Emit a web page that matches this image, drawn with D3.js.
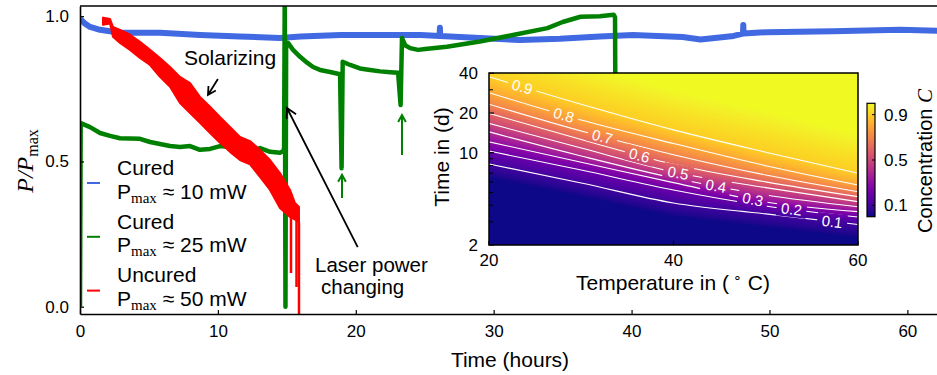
<!DOCTYPE html>
<html><head><meta charset="utf-8">
<script src="https://cdn.jsdelivr.net/npm/d3@7"></script>
<style>
body{margin:0;background:#fff}
svg{display:block}
text{font-family:"Liberation Sans",Arial,sans-serif;fill:#000}
</style>
</head><body>
<svg id="c" width="937" height="375"></svg>
<script>
// ---------------- DATA ----------------
const xTicks = [0, 10, 20, 30, 40, 50, 60];
const yTicks = [0.0, 0.5, 1.0];

// Cured, Pmax ~ 10 mW  [hours, P/Pmax]
const blueSeries = [[0,0.99],[0.35,0.975],[0.73,0.963],[1.45,0.953],[2.9,0.943],[5.8,0.943],[8.7,0.935],
  [11.6,0.93],[14.5,0.925],[16.0,0.93],[18.9,0.935],[21.8,0.935],[24.7,0.935],[26.08,0.932],[26.1,0.96],
  [26.12,0.932],[29.0,0.925],[31.9,0.918],[34.8,0.922],[37.7,0.93],[40.1,0.935],[43.7,0.928],[45.0,0.92],
  [47.4,0.932],[48.08,0.94],[48.1,0.97],[48.12,0.94],[49.8,0.945],[54.6,0.948],[59.5,0.953],[62.2,0.95]];

// Cured, Pmax ~ 25 mW
const greenSeries = [[0,0],[0.05,0.632],[0.73,0.618],[1.45,0.598],[2.18,0.588],[2.9,0.58],[4.35,0.578],
  [5.08,0.567],[5.8,0.56],[6.53,0.553],[7.25,0.55],[7.98,0.553],[8.7,0.54],[9.43,0.543],[10.16,0.553],
  [10.88,0.55],[11.6,0.54],[12.33,0.536],[13.06,0.546],[13.79,0.533],[14.5,0.53],[14.73,0.535],[14.8,0.546],
  [14.85,1.1],[14.9,0.0],[14.95,0.91],[15.1,0.907],[15.45,0.884],[15.96,0.86],[16.47,0.84],[16.9,0.825],
  [17.41,0.815],[18.14,0.808],[18.86,0.80],[18.97,0.477],[19.05,0.843],[19.59,0.832],[20.3,0.82],
  [21.04,0.815],[21.77,0.81],[22.5,0.807],[23.07,0.805],[23.25,0.694],[23.35,0.925],[23.58,0.90],
  [23.94,0.89],[24.52,0.884],[25.03,0.887],[26.6,0.895],[29.0,0.913],[31.4,0.935],[33.9,0.959],
  [35.0,0.98],[36.3,0.998],[37.7,1.0],[38.7,1.005],[38.8,0.997],[38.85,0.4]];

// Uncured, Pmax ~ 50 mW : noisy band [hours, low, high]
const redBand = [[1.67,0.97,0.995],[2.18,0.975,0.99],[2.39,0.929,0.963],[2.9,0.908,0.953],[3.63,0.884,0.936],
  [4.35,0.856,0.912],[5.08,0.832,0.884],[5.8,0.791,0.856],[6.53,0.757,0.825],[7.25,0.701,0.791],
  [7.98,0.667,0.77],[8.7,0.633,0.722],[9.43,0.598,0.688],[10.15,0.564,0.653],[10.88,0.533,0.619],
  [11.6,0.505,0.584],[12.33,0.49,0.57],[13.05,0.447,0.54],[13.78,0.402,0.505],[14.5,0.34,0.46],
  [15.23,0.309,0.402],[15.59,0.30,0.357],[15.88,0.29,0.343]];
const redSpikes = [[13.8,0.43],[15.3,0.116],[15.7,0.068],[15.88,-0.04]];

const legendTop = ["Cured", "Cured", "Uncured"];
const legendPower = ["10", "25", "50"];
const legendColors = ["#4169e1", "#008000", "#ff0000"];

// Inset: contour levels of concentration C, time in days at each temperature
const insetTemps = [20, 30, 40, 50, 60];
const insetXTicks = [20, 40, 60];
const insetYTicks = [2, 10, 20, 40];
const insetYMinor = [3, 4, 5, 6, 7, 8, 9, 30];
const contourLevels = [0.1, 0.2, 0.3, 0.4, 0.5, 0.6, 0.7, 0.8, 0.9];
const contourDays = [
  [8.22, 5.90, 4.16, 3.44, 2.86],
  [10.3, 7.40, 5.22, 3.95, 3.26],
  [12.1, 8.48, 5.94, 4.24, 3.58],
  [14.4, 9.45, 6.44, 4.79, 3.90],
  [16.7, 10.85, 7.15, 5.44, 4.26],
  [19.9, 12.6, 8.18, 6.02, 4.65],
  [23.3, 14.6, 9.66, 6.78, 5.07],
  [28.5, 17.7, 11.75, 7.98, 5.70],
  [37.7, 23.3, 14.9, 10.1, 6.99]];
const daysC0 = [6.4, 4.6, 3.25, 2.7, 2.25];   // where C reaches ~0
const daysC1 = [80, 48, 30, 21, 14];          // where C reaches ~1
const labelTemps = [57.2, 52.8, 48.6, 44.6, 40.5, 36.3, 32.3, 28.1, 23.6]; // label spot per level
const cbarTicks = [0.1, 0.5, 0.9];

// ---------------- CHART ----------------
const svg = d3.select("#c");
const FONT = '"Liberation Sans",Arial,sans-serif';
const SERIF = '"Liberation Serif","DejaVu Serif",serif';

const x = d3.scaleLinear().domain([0, 62.2]).range([80, 937.7]);
const y = d3.scaleLinear().domain([-0.025, 1.035]).range([314, 6]);

svg.append("clipPath").attr("id", "plotclip").append("rect")
  .attr("x", 80).attr("y", 6).attr("width", 870).attr("height", 308);

const plot = svg.append("g").attr("clip-path", "url(#plotclip)");
const line = d3.line().x(d => x(d[0])).y(d => y(d[1]));

plot.append("path").datum(blueSeries).attr("d", line)
  .attr("fill", "none").attr("stroke", "#4169e1").attr("stroke-width", 6).attr("stroke-linejoin", "round");
plot.append("path").datum(greenSeries).attr("d", line)
  .attr("fill", "none").attr("stroke", "#008000").attr("stroke-width", 4.5).attr("stroke-linejoin", "round");

const redArea = d3.area().x(d => x(d[0])).y0(d => y(d[1])).y1(d => y(d[2]));
plot.append("path").datum(redBand).attr("d", redArea)
  .attr("fill", "#ff0000").attr("stroke", "#ff0000").attr("stroke-width", 2).attr("stroke-linejoin", "round");
const redLowAt = d3.scaleLinear().domain(redBand.map(d => d[0])).range(redBand.map(d => d[1])).clamp(true);
plot.selectAll(".spk").data(redSpikes).join("line")
  .attr("x1", d => x(d[0])).attr("x2", d => x(d[0]))
  .attr("y1", d => y(redLowAt(d[0]))).attr("y2", d => y(d[1]))
  .attr("stroke", "#ff0000").attr("stroke-width", 2.5);

// axes
const ax = svg.append("g").attr("transform", "translate(0,314)")
  .call(d3.axisBottom(x).tickValues(xTicks).tickSize(-4).tickSizeOuter(0).tickPadding(11).tickFormat(d3.format("d")));
const ay = svg.append("g").attr("transform", "translate(80,0)")
  .call(d3.axisLeft(y).tickValues(yTicks).tickSize(-4).tickSizeOuter(0).tickPadding(11).tickFormat(d3.format(".1f")));
[ax, ay].forEach(g => {
  g.select(".domain").attr("stroke", "#000").attr("stroke-width", 1.6);
  g.selectAll(".tick line").attr("stroke", "#000").attr("stroke-width", 1.2);
  g.selectAll(".tick text").attr("font-size", 17).attr("font-family", FONT).attr("fill", "#000");
});
svg.append("line").attr("x1", 80).attr("x2", 937).attr("y1", 6).attr("y2", 6)
  .attr("stroke", "#000").attr("stroke-width", 1.6);

// axis labels
svg.append("text").attr("x", 510).attr("y", 366.5).attr("text-anchor", "middle")
  .attr("font-size", 21).text("Time (hours)");
const yl = svg.append("text").attr("transform", "translate(33,161) rotate(-90)")
  .attr("text-anchor", "middle").attr("font-size", 24).attr("font-family", SERIF);
yl.append("tspan").attr("font-style", "italic").attr("font-family", SERIF).text("P/P");
yl.append("tspan").attr("font-size", 16).attr("font-family", SERIF).attr("dy", 5).text("max");

// legend
legendTop.forEach((t, i) => {
  const y0 = 175 + i * 53.5;
  svg.append("line").attr("x1", 87).attr("x2", 100).attr("y1", y0 + 8 + i * 0.3).attr("y2", y0 + 8 + i * 0.3)
    .attr("stroke", legendColors[i]).attr("stroke-width", 2);
  svg.append("text").attr("x", 117).attr("y", y0).attr("font-size", 21).text(t);
  const tt = svg.append("text").attr("x", 117).attr("y", y0 + 23.5).attr("font-size", 21);
  tt.append("tspan").text("P");
  tt.append("tspan").attr("font-family", SERIF).attr("font-size", 15).attr("dy", 4).text("max");
  tt.append("tspan").attr("dy", -4).text(" \u2248 " + legendPower[i] + " mW");
});

// arrows
function arrow(x1, y1, x2, y2, color, w, len) {
  const a = Math.atan2(y2 - y1, x2 - x1);
  const h = 0.5;
  const p = d3.path();
  p.moveTo(x1, y1); p.lineTo(x2, y2);
  p.moveTo(x2 - len * Math.cos(a - h), y2 - len * Math.sin(a - h));
  p.lineTo(x2, y2);
  p.lineTo(x2 - len * Math.cos(a + h), y2 - len * Math.sin(a + h));
  svg.append("path").attr("d", p.toString()).attr("fill", "none").attr("stroke", color)
    .attr("stroke-width", w).attr("stroke-linejoin", "miter");
}
svg.append("text").attr("x", 230).attr("y", 65).attr("text-anchor", "middle").attr("font-size", 21).text("Solarizing");
arrow(x(10.0), y(0.784), x(9.28), y(0.729), "#000", 1.8, 9);
svg.append("text").attr("x", 315).attr("y", 272).attr("font-size", 20.5).text("Laser power");
svg.append("text").attr("x", 321).attr("y", 294).attr("font-size", 20.5).text("changing");
arrow(x(20.14), y(0.205), x(15.01), y(0.684), "#000", 1.8, 11);
arrow(x(19.0), y(0.374), x(19.0), y(0.454), "#008000", 2, 8);
arrow(x(23.35), y(0.522), x(23.35), y(0.66), "#008000", 2, 8);

// ---------------- INSET ----------------
const IX0 = 489, IX1 = 858, IY0 = 73, IY1 = 245;
const inX = d3.scaleLinear().domain([20, 60]).range([IX0, IX1]);
const inY = d3.scaleLog().domain([2, 40]).range([IY1, IY0 + 0.3]);

const allLevels = [0].concat(contourLevels, [1]);
const allDays = [daysC0].concat(contourDays, [daysC1]);
const levelLogAt = allDays.map(row =>
  d3.scaleLinear().domain(insetTemps).range(row.map(v => Math.log10(v))).clamp(true));

const W = IX1 - IX0, H = IY1 - IY0;
const cv = document.createElement("canvas");
cv.width = W; cv.height = H;
const ctx = cv.getContext("2d");
const img = ctx.createImageData(W, H);
for (let i = 0; i < W; i++) {
  const T = inX.invert(IX0 + i + 0.5);
  const logs = levelLogAt.map(s => s(T));
  const cScale = d3.scaleLinear().domain(logs).range(allLevels).clamp(true);
  for (let j = 0; j < H; j++) {
    const t = inY.invert(IY0 + j + 0.5);
    const c = d3.rgb(d3.interpolatePlasma(cScale(Math.log10(t))));
    const k = (j * W + i) * 4;
    img.data[k] = c.r; img.data[k + 1] = c.g; img.data[k + 2] = c.b; img.data[k + 3] = 255;
  }
}
ctx.putImageData(img, 0, 0);
svg.append("image").attr("x", IX0).attr("y", IY0).attr("width", W).attr("height", H)
  .attr("preserveAspectRatio", "none").attr("href", cv.toDataURL());

// contour label geometry
function contourY(k, T) { return inY(Math.pow(10, levelLogAt[k + 1](T))); }
const labels = contourLevels.map((lv, k) => {
  const T = labelTemps[k];
  const xa = inX(T - 1), xb = inX(T + 1);
  const ang = Math.atan2(contourY(k, T + 1) - contourY(k, T - 1), xb - xa) * 180 / Math.PI;
  return { lv, x: inX(T), y: contourY(k, T), ang };
});
const mask = svg.append("mask").attr("id", "cmask");
mask.append("rect").attr("x", IX0 - 5).attr("y", IY0 - 5).attr("width", W + 10).attr("height", H + 10).attr("fill", "#fff");
labels.forEach(l => {
  mask.append("rect").attr("x", -15).attr("y", -8).attr("width", 30).attr("height", 16).attr("fill", "#000")
    .attr("transform", `translate(${l.x},${l.y}) rotate(${l.ang})`);
});
svg.append("clipPath").attr("id", "inclip").append("rect")
  .attr("x", IX0).attr("y", IY0).attr("width", W).attr("height", H);
const cg = svg.append("g").attr("clip-path", "url(#inclip)").append("g").attr("mask", "url(#cmask)");
const cline = d3.line().x(d => inX(d[0])).y(d => inY(d[1])).curve(d3.curveMonotoneX);
contourDays.forEach(row => {
  cg.append("path").datum(insetTemps.map((T, i) => [T, row[i]])).attr("d", cline)
    .attr("fill", "none").attr("stroke", "#fff").attr("stroke-width", 1.1);
});
labels.forEach(l => {
  svg.append("text").attr("transform", `translate(${l.x},${l.y}) rotate(${l.ang})`)
    .attr("text-anchor", "middle").attr("dominant-baseline", "central")
    .attr("font-size", 15).style("fill", "#fff").text(l.lv.toFixed(1));
});

svg.append("rect").attr("x", IX0).attr("y", IY0).attr("width", W).attr("height", H)
  .attr("fill", "none").attr("stroke", "#000").attr("stroke-width", 1.5);

// inset ticks
insetXTicks.forEach(v => {
  svg.append("line").attr("x1", inX(v)).attr("x2", inX(v)).attr("y1", IY1).attr("y2", IY1 - 4)
    .attr("stroke", "#000").attr("stroke-width", 1.2);
  svg.append("text").attr("x", inX(v)).attr("y", 266).attr("text-anchor", "middle").attr("font-size", 17).text(v);
});
insetYTicks.forEach(v => {
  svg.append("line").attr("x1", IX0).attr("x2", IX0 + 5).attr("y1", inY(v)).attr("y2", inY(v))
    .attr("stroke", "#000").attr("stroke-width", 1.2);
  svg.append("text").attr("x", 478).attr("y", inY(v) + 6).attr("text-anchor", "end").attr("font-size", 17).text(v);
});
insetYMinor.forEach(v => {
  svg.append("line").attr("x1", IX0).attr("x2", IX0 + 4).attr("y1", inY(v)).attr("y2", inY(v))
    .attr("stroke", "#000").attr("stroke-width", 1);
});
svg.append("text").attr("transform", "translate(449,157) rotate(-90)").attr("text-anchor", "middle")
  .attr("font-size", 21).text("Time in (d)");
const tl = svg.append("text").attr("x", 673).attr("y", 289.5).attr("text-anchor", "middle").attr("font-size", 21);
tl.append("tspan").text("Temperature in (");
tl.append("tspan").attr("font-size", 14).attr("dy", -8).text(" \u2218");
tl.append("tspan").attr("dy", 8).text(" C)");

// colorbar
const cb = d3.scaleLinear().domain([0, 1]).range([216.7, 103.3]);
const grad = svg.append("defs").append("linearGradient").attr("id", "cbg")
  .attr("x1", 0).attr("y1", 1).attr("x2", 0).attr("y2", 0);
d3.range(0, 1.0001, 0.05).forEach(v => {
  grad.append("stop").attr("offset", v).attr("stop-color", d3.interpolatePlasma(v));
});
svg.append("rect").attr("x", 867).attr("y", cb(1)).attr("width", 8).attr("height", cb(0) - cb(1))
  .attr("fill", "url(#cbg)").attr("stroke", "#000").attr("stroke-width", 1.2);
cbarTicks.forEach(v => {
  svg.append("line").attr("x1", 872).attr("x2", 875).attr("y1", cb(v)).attr("y2", cb(v))
    .attr("stroke", "#000").attr("stroke-width", 1);
  svg.append("text").attr("x", 884).attr("y", cb(v) + 6).attr("font-size", 17).text(v.toFixed(1));
});
const cl = svg.append("text").attr("transform", "translate(932,161) rotate(-90)").attr("text-anchor", "middle")
  .attr("font-size", 20);
cl.append("tspan").text("Concentration ");
cl.append("tspan").attr("font-family", SERIF).attr("font-style", "italic").attr("font-size", 21).text("C");
</script>
</body></html>
